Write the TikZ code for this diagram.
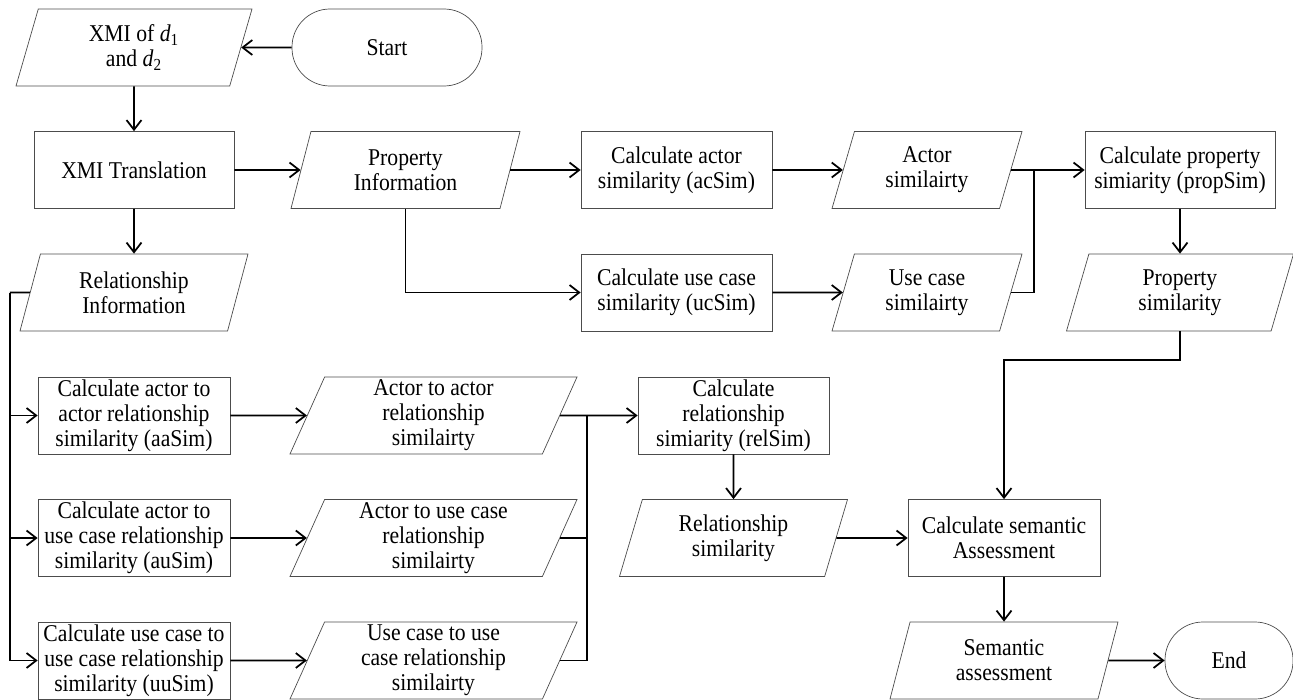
\documentclass[tikz,border=0pt]{standalone}
\usepackage{fontspec}
\setmainfont{Liberation Serif}[FakeStretch=0.9]
\usepackage{tikz}
\usetikzlibrary{arrows.meta, shapes.geometric, positioning}

\tikzset{
	proc/.style	= {draw=black!70, thin, rectangle, minimum height=1.54cm, inner xsep=2pt, inner ysep=0pt, align=center},
	data/.style	= {draw=black!70, thin, trapezium, trapezium left angle=64, trapezium right angle=116,
				   trapezium stretches body, minimum height=1.54cm, inner xsep=1pt, inner ysep=0pt, align=center},
	term/.style	= {draw=black!70, thin, rectangle, rounded corners=0.76cm, minimum height=1.54cm, align=center}
}

\begin{document}
\begin{tikzpicture}[->, >={Straight Barb[length=5.5pt, width=8.5pt]}, line width=1pt, on grid, font=\fontsize{13.7}{14.2}\selectfont]

				\useasboundingbox (0,0) rectangle (25.86,-14);

				\node [data, minimum width=4.72cm]	(1) at (2.68,-0.95)			{XMI of \textit{d}\textsubscript{1}\\and \textit{d}\textsubscript{2}};
				\node [term, minimum width=3.80cm]	(2) [right = 5.06cm of 1]	{Start};

				\node [proc, minimum width=4.00cm]	(3) [below = 2.45cm of 1]	{XMI Translation};
				\node [data, minimum width=4.58cm]	(4) [right = 5.43cm of 3]	{Property\\Information};
				\node [proc, minimum width=3.82cm]	(5) [right = 5.42cm of 4]	{Calculate actor\\similarity (acSim)};
				\node [data, minimum width=3.80cm]	(6) [right = 5.01cm of 5]	{Actor\\similairty};
				\node [proc, minimum width=3.80cm]	(7) [right = 5.06cm of 6]	{Calculate property\\simiarity (propSim)};

				\node [data, minimum width=4.56cm]	(8) [below = 2.45cm of 3]	{Relationship\\Information};
				\node [proc, minimum width=3.82cm]	(9) [below = 2.45cm of 5]	{Calculate use case\\similarity (ucSim)};
				\node [data, minimum width=3.80cm]	(10) [below = 2.45cm of 6]	{Use case\\similairty};
				\node [data, minimum width=4.54cm]	(11) [below = 2.45cm of 7]	{Property\\similarity};

				\node [proc, minimum width=3.84cm]	(12) [below = 2.46cm of 8]	{Calculate actor to\\actor relationship\\similarity (aaSim)};
				\node [data, minimum width=5.74cm]	(13) [right = 5.99cm of 12]	{Actor to actor\\relationship\\similairty};
				\node [proc, minimum width=3.82cm]	(14) [right = 6.00cm of 13]	{Calculate\\relationship\\simiarity (relSim)};

				\node [proc, minimum width=3.84cm]	(15) [below = 2.45cm of 12]	{Calculate actor to\\use case relationship\\similarity (auSim)};
				\node [data, minimum width=5.74cm]	(16) [below = 2.45cm of 13]	{Actor to use case\\relationship\\similairty};
				\node [data, minimum width=4.56cm]	(17) [below = 2.45cm of 14]	{Relationship\\similarity};
				\node [proc, minimum width=3.84cm]	(18) [right = 5.41cm of 17]	{Calculate semantic\\Assessment};

				\node [proc, minimum width=3.84cm]	(19) [below = 2.45cm of 15]	{Calculate use case to\\use case relationship\\similarity (uuSim)};
				\node [data, minimum width=5.74cm]	(20) [below = 2.45cm of 16]	{Use case to use\\case relationship\\similairty};
				\node [data, minimum width=4.56cm]	(21) [below = 2.45cm of 18]	{Semantic\\assessment};
				\node [term, minimum width=2.56cm]	(22) [right = 4.50cm of 21]	{End};

				% junctions
				\coordinate (a) at ([xshift=2.14cm]6.center);
				\coordinate (b) at ([xshift=-2.48cm]8.center);
				\coordinate (c) at ([xshift=3.07cm]13.center);

				\path	(2) edge (1)
						(1) edge (3)
						(3) edge (4)
							edge (8)
						(4) edge (5)
						(5) edge (6)
						(6) edge (7)
						(9) edge (10)
						(7) edge (11)
						(12) edge (13)
						(15) edge (16)
						(19) edge (20)
						(13) edge (14)
						(14) edge (17)
						(17) edge (18)
						(18) edge (21)
						(21) edge (22)
				;

				\draw (4.south) |- (9);
				\draw [-] (10) -| (a);
				\draw [-] (8) -- (b);
				\draw (b) |- (19);
				\draw (b |- 12) -- (12);
				\draw (b |- 15) -- (15);
				\draw [-] (16) -| (c);
				\draw [-] (20) -| (c);
				\draw (11.south) -- ++(0,-0.58) -| (18);

\end{tikzpicture}
\end{document}
